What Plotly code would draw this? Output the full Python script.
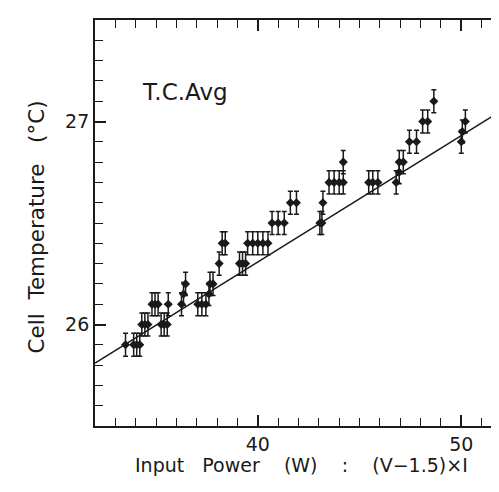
import plotly.graph_objects as go

# thermocouple average vs input power
power = [33.5, 33.9, 34.05, 34.2,
         34.3, 34.45, 34.6,
         34.8, 34.95, 35.1,
         35.25, 35.4, 35.55,
         35.6,
         36.25, 36.35, 36.45,
         37.05, 37.25, 37.45,
         37.6, 37.65, 37.8,
         38.1,
         38.25, 38.4,
         39.1, 39.25, 39.4,
         39.5, 39.75, 40.0, 40.25, 40.5,
         40.7, 41.0, 41.3,
         41.6, 41.9,
         43.05, 43.15,
         43.2,
         43.5, 43.75, 44.0, 44.2,
         44.2,
         45.45, 45.65, 45.9,
         46.8,
         46.95,
         46.95, 47.15,
         47.45, 47.8,
         48.1, 48.35,
         48.65,
         50.0,
         50.05,
         50.2]
temp = [25.9, 25.9, 25.9, 25.9,
        26.0, 26.0, 26.0,
        26.1, 26.1, 26.1,
        26.0, 26.0, 26.0,
        26.1,
        26.1, 26.15, 26.2,
        26.1, 26.1, 26.1,
        26.15, 26.2, 26.2,
        26.3,
        26.4, 26.4,
        26.3, 26.3, 26.3,
        26.4, 26.4, 26.4, 26.4, 26.4,
        26.5, 26.5, 26.5,
        26.6, 26.6,
        26.5, 26.5,
        26.6,
        26.7, 26.7, 26.7, 26.7,
        26.8,
        26.7, 26.7, 26.7,
        26.7,
        26.75,
        26.8, 26.8,
        26.9, 26.9,
        27.0, 27.0,
        27.1,
        26.9,
        26.95,
        27.0]
err = 0.057

# linear fit drawn across the plot
fit_power = [32, 52]
fit_temp = [25.81, 27.055]

fnt = "DejaVu Sans"
ink = "#1a1a1a"

fig = go.Figure()

fig.add_trace(go.Scatter(x=fit_power, y=fit_temp, mode="lines",
                         line=dict(color=ink, width=1.6), showlegend=False))

fig.add_trace(go.Scatter(x=power, y=temp, mode="markers",
                         marker=dict(symbol="diamond", size=7, color=ink),
                         error_y=dict(type="constant", value=err, color=ink,
                                      thickness=1.5, width=2.5),
                         showlegend=False))

axis_common = dict(showline=True, linecolor=ink, linewidth=1.8, mirror="ticks",
                   ticks="inside", ticklen=11, tickwidth=1.5, tickcolor=ink,
                   showgrid=False, zeroline=False,
                   tickfont=dict(family=fnt, size=19, color=ink))

fig.update_xaxes(range=[32, 52], tick0=0, dtick=10,
                 minor=dict(dtick=1, ticks="inside", ticklen=8, tickwidth=1.3,
                            tickcolor=ink, showgrid=False),
                 **axis_common)
fig.update_yaxes(range=[25.5, 27.5], tick0=0, dtick=1,
                 minor=dict(dtick=0.1, ticks="inside", ticklen=8, tickwidth=1.3,
                            tickcolor=ink, showgrid=False),
                 **axis_common)

fig.add_annotation(text="T.C.Avg", xref="paper", yref="paper", x=0.11, y=0.823,
                   xanchor="left", yanchor="middle", showarrow=False,
                   font=dict(family=fnt, size=23, color=ink))

fig.add_annotation(text="Cell\u00a0 Temperature\u00a0\u00a0 (°C)", xref="paper", yref="paper",
                   x=-0.144, y=0.49, textangle=-90, xanchor="center", yanchor="middle",
                   showarrow=False, font=dict(family=fnt, size=21.5, color=ink))

fig.add_annotation(text="Input\u00a0\u00a0 Power\u00a0\u00a0\u00a0 (W)\u00a0\u00a0\u00a0 :\u00a0\u00a0\u00a0 (V\u22121.5)\u00d7I",
                   xref="paper", yref="paper", x=0.507, y=-0.096,
                   xanchor="center", yanchor="middle", showarrow=False,
                   font=dict(family=fnt, size=19, color=ink))

fig.update_layout(width=499, height=492, plot_bgcolor="white", paper_bgcolor="white",
                  margin=dict(l=87, r=3, t=12, b=74))

fig.write_html("out.html")
